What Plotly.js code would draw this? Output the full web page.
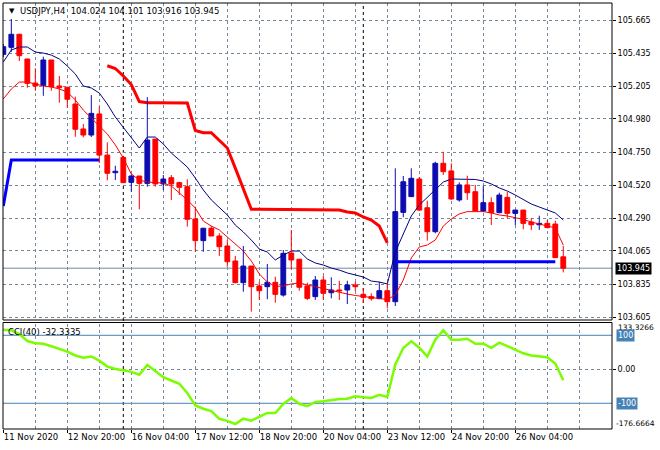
<!DOCTYPE html>
<html><head><meta charset="utf-8">
<script src="https://cdn.plot.ly/plotly-3.0.1.min.js"></script>
<style>html,body{margin:0;padding:0;background:#fff;}#chart{width:660px;height:450px;}</style>
</head><body><div id="chart"></div>
<script>
const symbol = "USDJPY,H4";
const indicatorName = "CCI(40)";
const tickBars = [0, 8, 16, 24, 32, 40, 48, 56, 64];
const tickLabels = ["11 Nov 2020", "12 Nov 20:00", "16 Nov 04:00", "17 Nov 12:00", "18 Nov 20:00", "20 Nov 04:00", "23 Nov 12:00", "24 Nov 20:00", "26 Nov 04:00"];
const separatorBars = [15, 45];
const priceTicks = [105.665, 105.435, 105.205, 104.980, 104.750, 104.520, 104.290, 104.065, 103.835, 103.605];

const openP = [105.427,105.476,105.566,105.395,105.228,105.212,105.388,105.208,105.199,105.083,
104.910,104.868,105.014,104.729,104.607,104.713,104.540,104.584,104.533,104.840,
104.529,104.572,104.538,104.510,104.286,104.136,104.222,104.168,104.099,103.995,
103.845,103.960,103.822,103.817,103.847,103.759,104.050,104.007,103.822,103.748,
103.863,103.775,103.794,103.794,103.829,103.764,103.748,103.734,103.789,103.713,
104.332,104.441,104.563,104.364,104.198,104.672,104.619,104.418,104.522,104.475,
104.341,104.399,104.330,104.436,104.325,104.348,104.265,104.246,104.256,104.251,104.024];
const highP = [105.499,105.672,105.570,105.395,105.330,105.411,105.388,105.277,105.201,105.134,
104.944,105.145,105.064,104.817,104.655,104.718,104.596,104.584,105.131,104.840,
104.591,104.591,104.544,104.561,104.371,104.224,104.237,104.187,104.140,104.030,
104.099,103.960,103.851,103.974,103.886,104.071,104.210,104.007,103.845,103.891,
103.891,103.882,103.858,103.858,103.851,103.808,103.771,103.851,103.840,104.637,
104.584,104.637,104.577,104.413,104.683,104.752,104.672,104.540,104.586,104.522,
104.517,104.436,104.468,104.475,104.348,104.348,104.291,104.309,104.279,104.274,104.101];
const lowP = [105.409,105.445,105.381,105.196,105.175,105.140,105.175,105.092,105.057,104.856,
104.852,104.854,104.674,104.554,104.556,104.535,104.475,104.353,104.510,104.510,
104.487,104.418,104.452,104.233,104.059,104.059,104.168,104.030,103.955,103.840,
103.782,103.644,103.725,103.730,103.706,103.748,103.937,103.789,103.725,103.725,
103.725,103.736,103.725,103.697,103.787,103.704,103.720,103.730,103.667,103.683,
104.298,104.441,104.341,104.136,104.187,104.591,104.418,104.406,104.418,104.337,
104.337,104.244,104.325,104.291,104.244,104.215,104.210,104.210,104.222,104.018,103.916];
const closeP = [105.480,105.566,105.418,105.226,105.208,105.388,105.203,105.196,105.116,104.908,
104.868,105.018,104.729,104.603,104.617,104.538,104.584,104.533,104.833,104.529,
104.563,104.529,104.506,104.284,104.136,104.222,104.168,104.094,103.990,103.845,
103.960,103.817,103.789,103.847,103.764,104.048,104.002,103.813,103.736,103.863,
103.771,103.794,103.787,103.829,103.817,103.743,103.734,103.789,103.713,104.337,
104.544,104.568,104.348,104.198,104.672,104.614,104.425,104.522,104.468,104.341,
104.399,104.330,104.452,104.325,104.348,104.256,104.246,104.256,104.226,104.018,103.945];

const maSlow = [105.374,105.457,105.478,105.478,105.443,105.436,105.422,105.395,105.346,105.291,
105.208,105.194,105.159,105.083,104.993,104.924,104.847,104.778,104.854,104.854,
104.806,104.743,104.695,104.646,104.570,104.487,104.418,104.369,104.314,104.244,
104.196,104.140,104.078,104.057,104.002,104.036,104.064,104.064,104.009,103.981,
103.967,103.946,103.932,103.912,103.898,103.884,103.856,103.849,103.836,104.057,
104.182,104.307,104.383,104.438,104.494,104.542,104.563,104.563,104.563,104.560,
104.549,104.529,104.501,104.480,104.452,104.418,104.390,104.369,104.348,104.328,104.279];
const maFast = [105.118,105.187,105.235,105.235,105.222,105.208,105.201,105.187,105.166,105.111,
105.041,104.986,104.937,104.875,104.799,104.709,104.598,104.556,104.542,104.539,
104.535,104.515,104.466,104.418,104.362,104.272,104.237,104.210,104.161,104.113,
104.064,103.995,103.905,103.849,103.818,103.822,103.836,103.842,103.829,103.815,
103.801,103.787,103.777,103.766,103.756,103.749,103.742,103.736,103.728,103.759,
103.863,104.016,104.092,104.106,104.140,104.237,104.286,104.321,104.337,104.337,
104.337,104.328,104.314,104.307,104.296,104.283,104.265,104.251,104.241,104.224,104.106];
const stopRed = [null,null,null,null,null,null,null,null,null,null,
null,null,null,105.348,105.329,105.277,105.218,105.100,105.092,105.092,
105.092,105.092,105.092,105.090,104.899,104.884,104.884,104.833,104.778,104.639,
104.494,104.353,104.353,104.353,104.353,104.353,104.353,104.353,104.353,104.352,
104.350,104.348,104.348,104.334,104.328,104.300,104.279,104.237,104.120,null,
null,null,null,null,null,null,null,null,null,null,
null,null,null,null,null,null,null,null,null,null,null];
const stopBlue = [104.376,104.695,104.695,104.695,104.695,104.695,104.695,104.695,104.695,104.695,
104.695,104.695,104.695,null,null,null,null,null,null,null,
null,null,null,null,null,null,null,null,null,null,
null,null,null,null,null,null,null,null,null,null,
null,null,null,null,null,null,null,null,null,103.990,
103.990,103.990,103.990,103.990,103.990,103.990,103.990,103.990,103.990,103.990,
103.990,103.990,103.990,103.990,103.990,103.990,103.990,103.990,103.990,103.990,null];
const cci = [116.5,114.7,103.8,83.2,76.5,75.3,67.6,59.7,52.1,40.6,
34.1,37.6,25.3,8.2,0.9,-2.9,-7.6,-15.9,12.6,-5.0,
-23.5,-32.9,-42.6,-69.7,-106.5,-115.9,-123.2,-145.6,-151.8,-160.9,
-145.3,-151.2,-138.8,-128.5,-128.5,-102.1,-84.4,-101.5,-108.5,-96.2,
-94.1,-91.2,-87.3,-86.8,-79.4,-82.3,-84.4,-75.0,-81.5,14.1,
62.6,82.3,63.5,37.6,87.1,114.7,87.1,87.1,90.0,75.3,
75.3,63.2,78.2,68.2,57.3,47.1,40.6,39.1,35.6,17.1,-32.3335];
const cciLevels = [100, -100];
const cciScale = [133.3266, -176.6664];

// ---------- build ----------
const FONT = 'DejaVu Sans';
const FS = 8.5;
const BULL = '#0c0cb0', BEAR = '#ff0000';
const GRID = '#778899';
const idx = openP.map((_, i) => i);
const isUp = idx.map(i => closeP[i] >= openP[i]);

function wicks(flag) {
  const x = [], y = [];
  idx.forEach(i => { if (isUp[i] === flag) { x.push(i, i, null); y.push(highP[i], lowP[i], null); } });
  return {x, y, type: 'scatter', mode: 'lines', xaxis: 'x', yaxis: 'y',
    line: {color: flag ? BULL : BEAR, width: 1}, hoverinfo: 'skip'};
}
const bodyColors = idx.map(i => isUp[i] ? BULL : BEAR);
const bodies = {
  type: 'bar', x: idx,
  base: idx.map(i => Math.min(openP[i], closeP[i])),
  y: idx.map(i => Math.abs(closeP[i] - openP[i])),
  width: 0.6, xaxis: 'x', yaxis: 'y',
  marker: {color: bodyColors, line: {color: bodyColors, width: 1}}, hoverinfo: 'skip'
};
const traces = [
  {x: idx, y: maSlow, type: 'scatter', mode: 'lines', line: {color: '#000080', width: 1}, xaxis: 'x', yaxis: 'y'},
  {x: idx, y: maFast, type: 'scatter', mode: 'lines', line: {color: '#ff0000', width: 1}, xaxis: 'x', yaxis: 'y'},
  {x: idx, y: stopRed, type: 'scatter', mode: 'lines', line: {color: '#ff0000', width: 3}, xaxis: 'x', yaxis: 'y'},
  {x: idx, y: stopBlue, type: 'scatter', mode: 'lines', line: {color: '#0000ff', width: 3}, xaxis: 'x', yaxis: 'y'},
  wicks(true), wicks(false), bodies,
  {x: idx, y: cci, type: 'scatter', mode: 'lines', line: {color: '#7cfc00', width: 2.5}, xaxis: 'x', yaxis: 'y2'}
];

// layout geometry (pixels)
const W = 660, H = 450, ML = 3, MR = 48, MT = 3, MB = 21;
const pw = W - ML - MR, ph = H - MT - MB;
const px = x => (x - ML) / pw;
const py = y => (H - MB - y) / ph;
const mainBottom = 320, cciTop = 324;
const last = idx.length - 1;

const shapes = [];
separatorBars.forEach(b => shapes.push({type: 'line', xref: 'x', yref: 'paper', x0: b, x1: b, y0: 0, y1: 1,
  line: {color: '#000', width: 1, dash: '3px,3px'}, layer: 'between'}));
cciLevels.forEach(v => shapes.push({type: 'line', xref: 'paper', yref: 'y2', x0: 0, x1: 1, y0: v, y1: v,
  line: {color: '#4682b4', width: 1}, layer: 'between'}));
shapes.push({type: 'line', xref: 'paper', yref: 'y', x0: 0, x1: 1, y0: closeP[last], y1: closeP[last],
  line: {color: GRID, width: 1}, layer: 'between'});
shapes.push({type: 'rect', xref: 'paper', yref: 'paper', x0: 0, x1: 1, y0: py(mainBottom), y1: 1,
  line: {color: '#000', width: 1}, layer: 'above'});
shapes.push({type: 'rect', xref: 'paper', yref: 'paper', x0: 0, x1: 1, y0: 0, y1: py(322.5),
  line: {color: '#000', width: 1}, layer: 'above'});

const f = (c, s) => ({family: FONT, size: s || FS, color: c || '#000'});
const annotations = [
  {xref: 'paper', yref: 'paper', x: px(7), y: py(11), text: '\u25BC', showarrow: false, xanchor: 'left', yanchor: 'middle', font: {family: FONT, size: 7, color: '#000'}},
  {xref: 'paper', yref: 'paper', x: px(18), y: py(11), showarrow: false, xanchor: 'left', yanchor: 'middle', font: f(),
    text: symbol + '  ' + [openP[last], highP[last], lowP[last], closeP[last]].map(v => v.toFixed(3)).join(' ')},
  {xref: 'paper', yref: 'paper', x: px(6), y: py(332), showarrow: false, xanchor: 'left', yanchor: 'middle', font: f(),
    text: indicatorName + ' ' + cci[last].toFixed(4)},
  {xref: 'paper', yref: 'y', x: 1, xshift: 3, y: closeP[last], showarrow: false, xanchor: 'left', yanchor: 'middle',
    text: closeP[last].toFixed(3), bgcolor: '#000', font: f('#fff', 8), borderpad: 1},
  {xref: 'paper', yref: 'paper', x: 1, xshift: 4, y: py(327.5), showarrow: false, xanchor: 'left', yanchor: 'middle',
    text: cciScale[0].toFixed(4), font: f('#000', 7.5)},
  {xref: 'paper', yref: 'paper', x: 1, xshift: 2, y: py(423.5), showarrow: false, xanchor: 'left', yanchor: 'middle',
    text: cciScale[1].toFixed(4), font: f('#000', 7.5)}
];
cciLevels.forEach(v => annotations.push({xref: 'paper', yref: 'y2', x: 1, xshift: 4, y: v, showarrow: false,
  xanchor: 'left', yanchor: 'middle', text: String(v), bgcolor: '#4682b4', font: f('#fff', 8), borderpad: 1}));

const layout = {
  width: W, height: H, margin: {l: ML, r: MR, t: MT, b: MB, pad: 0},
  paper_bgcolor: '#fff', plot_bgcolor: '#fff', showlegend: false, barmode: 'overlay',
  font: f(),
  xaxis: {range: [-0.04, 76.09], anchor: 'y2', tickmode: 'array', tickvals: tickBars, ticktext: tickLabels,
    tickangle: 0, automargin: false,
    ticks: 'outside', ticklen: 3, tickcolor: '#000', ticklabelposition: 'outside right', tickfont: f(),
    showgrid: true, gridcolor: GRID, gridwidth: 1, griddash: '3px,3px', zeroline: false, showline: false,
    minor: {tick0: 0, dtick: 4, showgrid: true, gridcolor: GRID, gridwidth: 1, griddash: '3px,3px', ticks: ''}},
  yaxis: {domain: [py(mainBottom), 1], range: [103.586, 105.783], side: 'right', anchor: 'x',
    tickmode: 'array', tickvals: priceTicks, ticktext: priceTicks.map(v => v.toFixed(3)),
    ticks: 'outside', ticklen: 3, tickcolor: '#000', tickfont: f('#000', 8),
    showgrid: true, gridcolor: GRID, gridwidth: 1, griddash: '3px,3px', zeroline: false, showline: false},
  yaxis2: {domain: [0, py(cciTop)], range: [-175.6, 133.2], side: 'right', anchor: 'x',
    tickmode: 'array', tickvals: [0], ticktext: ['0.00'],
    ticks: 'outside', ticklen: 3, tickcolor: '#000', tickfont: f('#000', 8),
    showgrid: true, gridcolor: GRID, gridwidth: 1, griddash: '3px,3px', zeroline: false, showline: false},
  shapes, annotations
};
Plotly.newPlot('chart', traces, layout, {staticPlot: true, displayModeBar: false});
</script></body></html>
